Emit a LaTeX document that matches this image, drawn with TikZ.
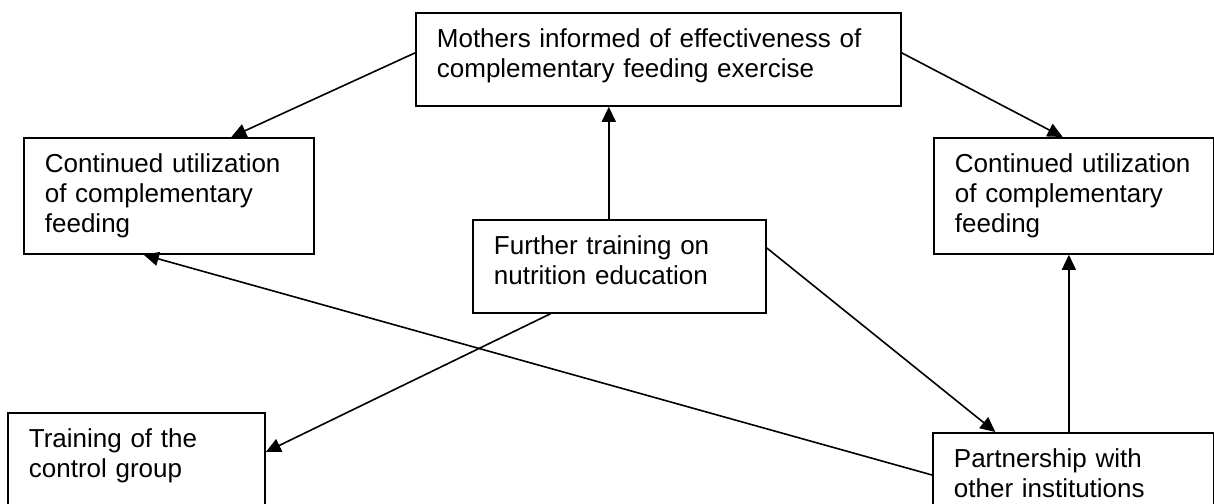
\documentclass[tikz,border=0pt]{standalone}
\usepackage{fontspec}
\setmainfont{Liberation Sans}
\usetikzlibrary{arrows.meta,calc}
\begin{document}
\begin{tikzpicture}[x=1pt,y=-1pt,
  box/.style={draw,line width=1.8pt,anchor=north west,align=left,inner xsep=21pt,inner ysep=0pt,text height=35pt,font=\fontsize{26}{30}\selectfont},
  conn/.style={line width=1.6pt,-{Triangle[length=15pt,width=14pt]}}]
\useasboundingbox (0,0) rectangle (1214,503);
\clip (0,0) rectangle (1214,503);
\node[box,text width=443pt,text depth=58pt] (top) at (415,12) {Mothers~informed~of~effectiveness~of\\complementary~feeding~exercise};
\node[box,text width=248pt,text depth=81pt] (left) at (23,137) {Continued~utilization\\of~complementary\\feeding};
\node[box,text width=238pt,text depth=81pt] (right) at (933,137) {Continued~utilization\\of~complementary\\feeding};
\node[box,text width=251pt,text depth=58pt] (center) at (472,219) {Further~training~on\\nutrition~education};
\node[box,text width=215pt,text depth=120pt] (ctrl) at (7,412) {Training~of~the\\control~group};
\node[box,text width=239pt,text depth=120pt] (part) at (932,432) {Partnership~with\\other~institutions};
% connectors
\draw[conn] ([yshift=6.5pt]top.west) -- ($(left.north west)!0.714!(left.north east)$);
\draw[conn] ([yshift=6.5pt]top.east) -- ($(right.north west)!0.46!(right.north east)$);
\coordinate (cTop) at ($(center.north west)!0.464!(center.north east)$);
\draw[conn] (cTop) -- (cTop |- top.south);
\coordinate (pTop) at ($(part.north west)!0.484!(part.north east)$);
\draw[conn] (pTop) -- (pTop |- right.south);
\draw[conn] ([yshift=-29pt]center.north east) -- ($(part.north west)!0.224!(part.north east)$);
\draw[conn] ($(center.south west)!0.266!(center.south east)$) -- ([yshift=-40pt]ctrl.north east);
\draw[conn] ([yshift=-43pt]part.north west) -- ($(left.south west)!0.414!(left.south east)$);
\end{tikzpicture}
\end{document}
